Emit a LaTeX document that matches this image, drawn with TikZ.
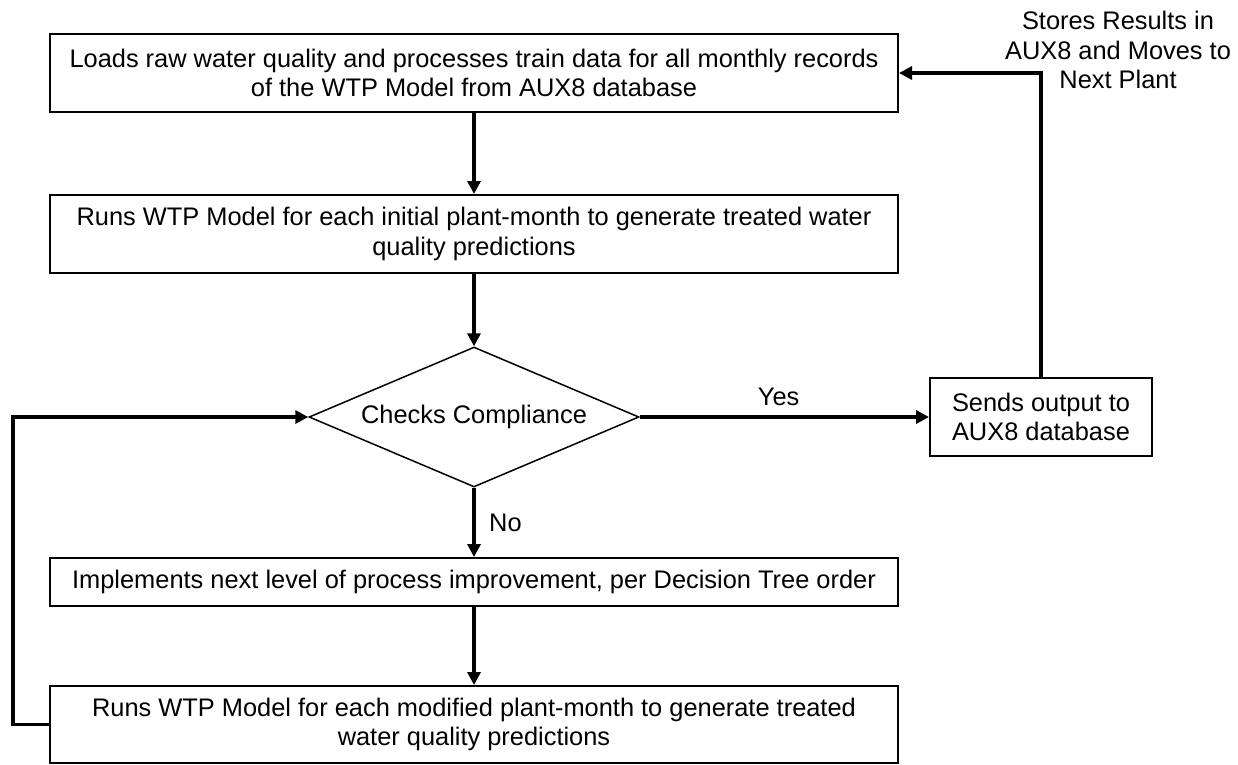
\documentclass[tikz,border=0pt]{standalone}
\usepackage{fontspec}
\setmainfont{Liberation Sans}
\usetikzlibrary{arrows.meta,shapes.geometric}
\begin{document}
\begin{tikzpicture}[x=1pt,y=-1pt,
  every node/.style={font=\fontsize{25.4}{29.5}\selectfont},
  procbox/.style={draw,line width=2pt,rectangle,align=center,inner sep=0pt,minimum width=848pt},
  decision/.style={draw,line width=1.5pt,diamond,inner sep=0pt,minimum width=330pt,minimum height=140pt,aspect=2.357},
  flow/.style={line width=3.8pt,-{Triangle[length=13pt,width=13pt]}},
  plain/.style={line width=3.8pt}]
\useasboundingbox[fill=white] (0,0) rectangle (1238,764);
\node[procbox,minimum height=78pt] (load) at (474,73) {Loads raw water quality and processes train data for all monthly records\\of the WTP Model from AUX8 database};
\node[procbox,minimum height=78pt] (run1) at (474,234) {Runs WTP Model for each initial plant-month to generate treated water\\quality predictions};
\node[decision] (check) at (474,417) {Checks Compliance};
\node[draw,line width=2pt,rectangle,align=center,inner sep=0pt,minimum width=222pt,minimum height=78pt] (send) at (1041,417) {Sends output to\\AUX8 database};
\node[procbox,minimum height=48pt] (impl) at (474,582) {Implements next level of process improvement, per Decision Tree order};
\node[procbox,minimum height=77pt] (run2) at (474,724.5) {Runs WTP Model for each modified plant-month to generate treated\\water quality predictions};
\node[align=center] (store) at (1118,50) {Stores Results in\\AUX8 and Moves to\\Next Plant};
\coordinate (loopb) at (13,724.5);
\coordinate (loopt) at (13,417);
\coordinate (upc) at (1041,73);
\draw[flow] (load) -- (run1);
\draw[flow] (run1) -- (check);
\draw[flow] (check) -- node[pos=0.5,anchor=west,xshift=10pt] (nolbl) {No} (impl);
\draw[flow] (impl) -- (run2);
\draw[flow] (check) -- node[pos=0.48,above=6pt] (yeslbl) {Yes} (send);
\draw[flow] (send.north) -- (upc) -- (load.east);
\draw[flow] (run2.west) -- (loopb) -- (loopt) -- (check.west);
\end{tikzpicture}
\end{document}
